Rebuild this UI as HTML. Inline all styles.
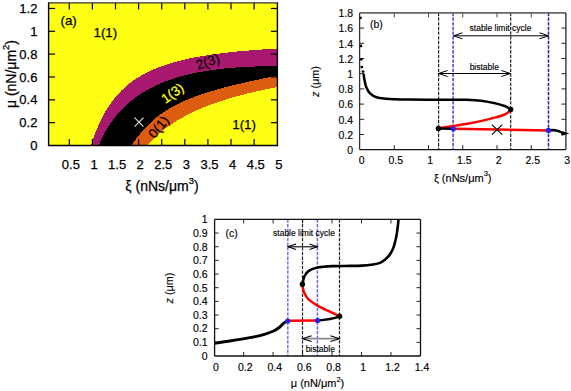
<!DOCTYPE html>
<html><head><meta charset="utf-8"><style>
html,body{margin:0;padding:0;background:#fff;width:571px;height:391px;overflow:hidden}
svg{display:block}
text{font-family:"Liberation Sans", sans-serif}
</style></head><body>
<svg width="571" height="391" viewBox="0 0 571 391">
<rect width="571" height="391" fill="#fff"/>
<rect x="48.6" y="2.9" width="228.80" height="142.60" fill="#ffff14"/>
<path d="M90.84,145.50 L91.46,143.69 L92.08,141.86 L92.70,140.06 L93.33,138.30 L93.95,136.58 L94.57,134.90 L95.19,133.26 L95.82,131.67 L96.44,130.11 L97.06,128.59 L97.68,127.12 L98.31,125.68 L98.93,124.28 L99.55,122.91 L100.17,121.58 L100.80,120.28 L101.42,119.01 L102.04,117.77 L102.67,116.57 L103.29,115.39 L103.91,114.25 L104.53,113.12 L105.16,112.03 L105.78,110.96 L106.40,109.92 L107.02,108.90 L107.65,107.90 L108.27,106.93 L108.89,105.98 L109.51,105.05 L110.14,104.14 L110.76,103.25 L111.38,102.38 L112.00,101.52 L112.63,100.69 L113.25,99.87 L113.87,99.08 L114.50,98.29 L115.12,97.53 L115.74,96.78 L116.36,96.04 L116.99,95.32 L117.61,94.62 L118.23,93.92 L118.85,93.25 L119.48,92.58 L120.10,91.93 L120.72,91.29 L121.34,90.66 L121.97,90.05 L122.59,89.44 L123.21,88.85 L123.83,88.27 L124.46,87.70 L125.08,87.14 L125.70,86.59 L126.32,86.05 L126.95,85.52 L127.57,85.00 L128.19,84.49 L128.82,83.98 L129.44,83.49 L130.06,83.01 L130.68,82.53 L131.31,82.06 L131.93,81.60 L132.55,81.15 L133.17,80.70 L133.80,80.26 L134.42,79.83 L135.04,79.41 L135.66,78.99 L136.29,78.58 L136.91,78.18 L137.53,77.78 L138.15,77.39 L138.78,77.00 L139.40,76.63 L140.02,76.25 L140.65,75.89 L141.27,75.53 L141.89,75.17 L142.51,74.82 L143.14,74.48 L143.76,74.14 L144.38,73.80 L145.00,73.47 L145.63,73.15 L146.25,72.83 L146.87,72.51 L147.49,72.20 L148.12,71.90 L148.74,71.59 L149.36,71.30 L149.98,71.00 L150.61,70.72 L151.23,70.43 L151.85,70.15 L152.48,69.87 L153.10,69.60 L153.72,69.33 L154.34,69.07 L154.97,68.81 L155.59,68.55 L156.21,68.29 L156.83,68.04 L157.46,67.79 L158.08,67.55 L158.70,67.31 L159.32,67.07 L159.95,66.84 L160.57,66.60 L161.19,66.38 L161.81,66.15 L162.44,65.93 L163.06,65.71 L163.68,65.49 L164.30,65.28 L164.93,65.07 L165.55,64.86 L166.17,64.65 L166.80,64.45 L167.42,64.25 L168.04,64.05 L168.66,63.85 L169.29,63.66 L169.91,63.47 L170.53,63.28 L171.15,63.09 L171.78,62.91 L172.40,62.73 L173.02,62.55 L173.64,62.37 L174.27,62.19 L174.89,62.02 L175.51,61.85 L176.13,61.68 L176.76,61.51 L177.38,61.35 L178.00,61.18 L178.63,61.02 L179.25,60.86 L179.87,60.71 L180.49,60.55 L181.12,60.40 L181.74,60.24 L182.36,60.09 L182.98,59.94 L183.61,59.80 L184.23,59.65 L184.85,59.51 L185.47,59.37 L186.10,59.23 L186.72,59.09 L187.34,58.95 L187.96,58.81 L188.59,58.68 L189.21,58.55 L189.83,58.41 L190.46,58.28 L191.08,58.16 L191.70,58.03 L192.32,57.90 L192.95,57.78 L193.57,57.65 L194.19,57.53 L194.81,57.41 L195.44,57.29 L196.06,57.18 L196.68,57.06 L197.30,56.94 L197.93,56.83 L198.55,56.72 L199.17,56.60 L199.79,56.49 L200.42,56.38 L201.04,56.28 L201.66,56.17 L202.29,56.06 L202.91,55.96 L203.53,55.85 L204.15,55.75 L204.78,55.65 L205.40,55.55 L206.02,55.45 L206.64,55.35 L207.27,55.25 L207.89,55.16 L208.51,55.06 L209.13,54.97 L209.76,54.87 L210.38,54.78 L211.00,54.69 L211.62,54.60 L212.25,54.51 L212.87,54.42 L213.49,54.33 L214.11,54.24 L214.74,54.16 L215.36,54.07 L215.98,53.99 L216.61,53.90 L217.23,53.82 L217.85,53.74 L218.47,53.66 L219.10,53.57 L219.72,53.49 L220.34,53.42 L220.96,53.34 L221.59,53.26 L222.21,53.18 L222.83,53.11 L223.45,53.03 L224.08,52.96 L224.70,52.88 L225.32,52.81 L225.94,52.74 L226.57,52.67 L227.19,52.59 L227.81,52.52 L228.44,52.45 L229.06,52.39 L229.68,52.32 L230.30,52.25 L230.93,52.18 L231.55,52.12 L232.17,52.05 L232.79,51.98 L233.42,51.92 L234.04,51.86 L234.66,51.79 L235.28,51.73 L235.91,51.67 L236.53,51.61 L237.15,51.54 L237.77,51.48 L238.40,51.42 L239.02,51.36 L239.64,51.31 L240.27,51.25 L240.89,51.19 L241.51,51.13 L242.13,51.08 L242.76,51.02 L243.38,50.96 L244.00,50.91 L244.62,50.85 L245.25,50.80 L245.87,50.75 L246.49,50.69 L247.11,50.64 L247.74,50.59 L248.36,50.54 L248.98,50.48 L249.60,50.43 L250.23,50.38 L250.85,50.33 L251.47,50.28 L252.10,50.24 L252.72,50.19 L253.34,50.14 L253.96,50.09 L254.59,50.04 L255.21,50.00 L255.83,49.95 L256.45,49.90 L257.08,49.86 L257.70,49.81 L258.32,49.77 L258.94,49.73 L259.57,49.68 L260.19,49.64 L260.81,49.59 L261.43,49.55 L262.06,49.51 L262.68,49.47 L263.30,49.43 L263.92,49.39 L264.55,49.34 L265.17,49.30 L265.79,49.26 L266.42,49.22 L267.04,49.18 L267.66,49.15 L268.28,49.11 L268.91,49.07 L269.53,49.03 L270.15,48.99 L270.77,48.96 L271.40,48.92 L272.02,48.88 L272.64,48.85 L273.26,48.81 L273.89,48.77 L274.51,48.74 L275.13,48.70 L275.75,48.67 L276.38,48.63 L277.00,48.60 L277.4,48.60 L277.4,145.5 L90.84,145.5 Z" fill="#a8186e" shape-rendering="crispEdges"/>
<path d="M98.83,145.50 L99.43,143.82 L100.03,142.36 L100.62,140.98 L101.22,139.67 L101.81,138.40 L102.41,137.18 L103.00,136.00 L103.60,134.85 L104.20,133.73 L104.79,132.64 L105.39,131.58 L105.98,130.55 L106.58,129.54 L107.18,128.55 L107.77,127.58 L108.37,126.63 L108.96,125.71 L109.56,124.80 L110.15,123.91 L110.75,123.04 L111.35,122.19 L111.94,121.35 L112.54,120.53 L113.13,119.73 L113.73,118.94 L114.33,118.16 L114.92,117.40 L115.52,116.65 L116.11,115.92 L116.71,115.19 L117.31,114.48 L117.90,113.79 L118.50,113.10 L119.09,112.43 L119.69,111.76 L120.28,111.11 L120.88,110.47 L121.48,109.84 L122.07,109.22 L122.67,108.61 L123.26,108.01 L123.86,107.42 L124.46,106.84 L125.05,106.26 L125.65,105.70 L126.24,105.14 L126.84,104.60 L127.44,104.06 L128.03,103.53 L128.63,103.01 L129.22,102.49 L129.82,101.98 L130.41,101.48 L131.01,100.99 L131.61,100.51 L132.20,100.03 L132.80,99.56 L133.39,99.09 L133.99,98.63 L134.59,98.18 L135.18,97.74 L135.78,97.30 L136.37,96.86 L136.97,96.44 L137.57,96.01 L138.16,95.60 L138.76,95.19 L139.35,94.79 L139.95,94.39 L140.54,93.99 L141.14,93.61 L141.74,93.22 L142.33,92.85 L142.93,92.47 L143.52,92.11 L144.12,91.74 L144.72,91.39 L145.31,91.03 L145.91,90.68 L146.50,90.34 L147.10,90.00 L147.70,89.67 L148.29,89.34 L148.89,89.01 L149.48,88.69 L150.08,88.37 L150.67,88.05 L151.27,87.74 L151.87,87.44 L152.46,87.14 L153.06,86.84 L153.65,86.54 L154.25,86.25 L154.85,85.97 L155.44,85.68 L156.04,85.40 L156.63,85.13 L157.23,84.85 L157.82,84.58 L158.42,84.32 L159.02,84.05 L159.61,83.79 L160.21,83.54 L160.80,83.29 L161.40,83.03 L162.00,82.79 L162.59,82.54 L163.19,82.30 L163.78,82.06 L164.38,81.83 L164.98,81.60 L165.57,81.37 L166.17,81.14 L166.76,80.92 L167.36,80.70 L167.95,80.48 L168.55,80.26 L169.15,80.05 L169.74,79.84 L170.34,79.63 L170.93,79.43 L171.53,79.22 L172.13,79.02 L172.72,78.83 L173.32,78.63 L173.91,78.44 L174.51,78.25 L175.11,78.06 L175.70,77.87 L176.30,77.69 L176.89,77.51 L177.49,77.33 L178.08,77.15 L178.68,76.98 L179.28,76.80 L179.87,76.63 L180.47,76.46 L181.06,76.30 L181.66,76.13 L182.26,75.97 L182.85,75.81 L183.45,75.65 L184.04,75.49 L184.64,75.34 L185.24,75.19 L185.83,75.04 L186.43,74.89 L187.02,74.74 L187.62,74.59 L188.21,74.45 L188.81,74.31 L189.41,74.17 L190.00,74.03 L190.60,73.89 L191.19,73.76 L191.79,73.63 L192.39,73.49 L192.98,73.36 L193.58,73.24 L194.17,73.11 L194.77,72.99 L195.37,72.86 L195.96,72.74 L196.56,72.62 L197.15,72.50 L197.75,72.38 L198.34,72.27 L198.94,72.15 L199.54,72.04 L200.13,71.93 L200.73,71.82 L201.32,71.71 L201.92,71.61 L202.52,71.50 L203.11,71.40 L203.71,71.29 L204.30,71.19 L204.90,71.09 L205.49,70.99 L206.09,70.90 L206.69,70.80 L207.28,70.71 L207.88,70.61 L208.47,70.52 L209.07,70.43 L209.67,70.34 L210.26,70.25 L210.86,70.17 L211.45,70.08 L212.05,69.99 L212.65,69.91 L213.24,69.83 L213.84,69.75 L214.43,69.67 L215.03,69.59 L215.62,69.51 L216.22,69.44 L216.82,69.36 L217.41,69.29 L218.01,69.21 L218.60,69.14 L219.20,69.07 L219.80,69.00 L220.39,68.93 L220.99,68.86 L221.58,68.80 L222.18,68.73 L222.78,68.67 L223.37,68.60 L223.97,68.54 L224.56,68.48 L225.16,68.42 L225.75,68.36 L226.35,68.30 L226.95,68.24 L227.54,68.19 L228.14,68.13 L228.73,68.08 L229.33,68.02 L229.93,67.97 L230.52,67.92 L231.12,67.87 L231.71,67.82 L232.31,67.77 L232.91,67.72 L233.50,67.67 L234.10,67.62 L234.69,67.58 L235.29,67.53 L235.88,67.49 L236.48,67.45 L237.08,67.40 L237.67,67.36 L238.27,67.32 L238.86,67.28 L239.46,67.24 L240.06,67.20 L240.65,67.17 L241.25,67.13 L241.84,67.10 L242.44,67.06 L243.04,67.03 L243.63,66.99 L244.23,66.96 L244.82,66.93 L245.42,66.90 L246.01,66.87 L246.61,66.84 L247.21,66.81 L247.80,66.78 L248.40,66.75 L248.99,66.73 L249.59,66.70 L250.19,66.67 L250.78,66.65 L251.38,66.63 L251.97,66.60 L252.57,66.58 L253.16,66.56 L253.76,66.54 L254.36,66.52 L254.95,66.50 L255.55,66.48 L256.14,66.46 L256.74,66.44 L257.34,66.43 L257.93,66.41 L258.53,66.39 L259.12,66.38 L259.72,66.36 L260.32,66.35 L260.91,66.34 L261.51,66.32 L262.10,66.31 L262.70,66.30 L263.29,66.29 L263.89,66.28 L264.49,66.27 L265.08,66.26 L265.68,66.25 L266.27,66.25 L266.87,66.24 L267.47,66.23 L268.06,66.23 L268.66,66.22 L269.25,66.22 L269.85,66.21 L270.45,66.21 L271.04,66.20 L271.64,66.20 L272.23,66.20 L272.83,66.20 L273.42,66.20 L274.02,66.20 L274.62,66.20 L275.21,66.20 L275.81,66.20 L276.40,66.20 L277.00,66.20 L277.4,66.20 L277.4,145.5 L98.83,145.5 Z" fill="#000" shape-rendering="crispEdges"/>
<path d="M131.03,145.50 L131.51,145.02 L132.00,144.44 L132.49,143.82 L132.98,143.18 L133.47,142.54 L133.96,141.88 L134.44,141.23 L134.93,140.57 L135.42,139.91 L135.91,139.26 L136.40,138.61 L136.88,137.96 L137.37,137.32 L137.86,136.69 L138.35,136.06 L138.84,135.44 L139.33,134.82 L139.81,134.21 L140.30,133.61 L140.79,133.01 L141.28,132.42 L141.77,131.84 L142.26,131.27 L142.74,130.70 L143.23,130.14 L143.72,129.59 L144.21,129.04 L144.70,128.50 L145.18,127.97 L145.67,127.44 L146.16,126.92 L146.65,126.41 L147.14,125.91 L147.63,125.41 L148.11,124.92 L148.60,124.43 L149.09,123.95 L149.58,123.48 L150.07,123.01 L150.55,122.55 L151.04,122.10 L151.53,121.65 L152.02,121.20 L152.51,120.77 L153.00,120.33 L153.48,119.91 L153.97,119.49 L154.46,119.07 L154.95,118.66 L155.44,118.26 L155.92,117.86 L156.41,117.46 L156.90,117.07 L157.39,116.69 L157.88,116.30 L158.37,115.93 L158.85,115.56 L159.34,115.19 L159.83,114.83 L160.32,114.47 L160.81,114.12 L161.30,113.77 L161.78,113.42 L162.27,113.08 L162.76,112.74 L163.25,112.41 L163.74,112.08 L164.22,111.75 L164.71,111.43 L165.20,111.11 L165.69,110.80 L166.18,110.49 L166.67,110.18 L167.15,109.87 L167.64,109.57 L168.13,109.27 L168.62,108.98 L169.11,108.69 L169.59,108.40 L170.08,108.11 L170.57,107.83 L171.06,107.55 L171.55,107.27 L172.04,107.00 L172.52,106.73 L173.01,106.46 L173.50,106.20 L173.99,105.93 L174.48,105.67 L174.96,105.41 L175.45,105.16 L175.94,104.91 L176.43,104.66 L176.92,104.41 L177.41,104.16 L177.89,103.92 L178.38,103.68 L178.87,103.44 L179.36,103.20 L179.85,102.97 L180.34,102.74 L180.82,102.51 L181.31,102.28 L181.80,102.05 L182.29,101.83 L182.78,101.61 L183.26,101.39 L183.75,101.17 L184.24,100.95 L184.73,100.74 L185.22,100.53 L185.71,100.32 L186.19,100.11 L186.68,99.90 L187.17,99.69 L187.66,99.49 L188.15,99.29 L188.63,99.09 L189.12,98.89 L189.61,98.69 L190.10,98.50 L190.59,98.30 L191.08,98.11 L191.56,97.92 L192.05,97.73 L192.54,97.54 L193.03,97.35 L193.52,97.16 L194.01,96.98 L194.49,96.80 L194.98,96.62 L195.47,96.44 L195.96,96.26 L196.45,96.08 L196.93,95.90 L197.42,95.73 L197.91,95.55 L198.40,95.38 L198.89,95.21 L199.38,95.04 L199.86,94.87 L200.35,94.70 L200.84,94.53 L201.33,94.36 L201.82,94.20 L202.30,94.04 L202.79,93.87 L203.28,93.71 L203.77,93.55 L204.26,93.39 L204.75,93.23 L205.23,93.07 L205.72,92.91 L206.21,92.76 L206.70,92.60 L207.19,92.45 L207.67,92.30 L208.16,92.14 L208.65,91.99 L209.14,91.84 L209.63,91.69 L210.12,91.54 L210.60,91.39 L211.09,91.25 L211.58,91.10 L212.07,90.95 L212.56,90.81 L213.05,90.66 L213.53,90.52 L214.02,90.38 L214.51,90.23 L215.00,90.09 L215.49,89.95 L215.97,89.81 L216.46,89.67 L216.95,89.53 L217.44,89.40 L217.93,89.26 L218.42,89.12 L218.90,88.99 L219.39,88.85 L219.88,88.72 L220.37,88.58 L220.86,88.45 L221.34,88.32 L221.83,88.18 L222.32,88.05 L222.81,87.92 L223.30,87.79 L223.79,87.66 L224.27,87.53 L224.76,87.40 L225.25,87.28 L225.74,87.15 L226.23,87.02 L226.71,86.89 L227.20,86.77 L227.69,86.64 L228.18,86.52 L228.67,86.39 L229.16,86.27 L229.64,86.15 L230.13,86.02 L230.62,85.90 L231.11,85.78 L231.60,85.66 L232.09,85.54 L232.57,85.42 L233.06,85.29 L233.55,85.18 L234.04,85.06 L234.53,84.94 L235.01,84.82 L235.50,84.70 L235.99,84.58 L236.48,84.47 L236.97,84.35 L237.46,84.23 L237.94,84.12 L238.43,84.00 L238.92,83.89 L239.41,83.77 L239.90,83.66 L240.38,83.54 L240.87,83.43 L241.36,83.31 L241.85,83.20 L242.34,83.09 L242.83,82.98 L243.31,82.87 L243.80,82.75 L244.29,82.64 L244.78,82.53 L245.27,82.42 L245.75,82.31 L246.24,82.20 L246.73,82.09 L247.22,81.98 L247.71,81.87 L248.20,81.76 L248.68,81.66 L249.17,81.55 L249.66,81.44 L250.15,81.33 L250.64,81.23 L251.13,81.12 L251.61,81.01 L252.10,80.91 L252.59,80.80 L253.08,80.69 L253.57,80.59 L254.05,80.48 L254.54,80.38 L255.03,80.27 L255.52,80.17 L256.01,80.07 L256.50,79.96 L256.98,79.86 L257.47,79.75 L257.96,79.65 L258.45,79.55 L258.94,79.45 L259.42,79.34 L259.91,79.24 L260.40,79.14 L260.89,79.04 L261.38,78.94 L261.87,78.84 L262.35,78.73 L262.84,78.63 L263.33,78.53 L263.82,78.43 L264.31,78.33 L264.79,78.23 L265.28,78.13 L265.77,78.03 L266.26,77.93 L266.75,77.83 L267.24,77.74 L267.72,77.64 L268.21,77.54 L268.70,77.44 L269.19,77.34 L269.68,77.24 L270.17,77.15 L270.65,77.05 L271.14,76.95 L271.63,76.86 L272.12,76.76 L272.61,76.66 L273.09,76.56 L273.58,76.47 L274.07,76.37 L274.56,76.28 L275.05,76.18 L275.54,76.08 L276.02,75.99 L276.51,75.89 L277.00,75.80 L277.4,75.80 L277.4,145.5 L131.03,145.5 Z" fill="#dc5c10" shape-rendering="crispEdges"/>
<path d="M146.98,145.50 L147.41,144.96 L147.85,144.45 L148.28,143.96 L148.72,143.47 L149.15,143.00 L149.59,142.53 L150.02,142.07 L150.46,141.61 L150.89,141.16 L151.32,140.72 L151.76,140.28 L152.19,139.85 L152.63,139.42 L153.06,139.00 L153.50,138.58 L153.93,138.16 L154.37,137.75 L154.80,137.35 L155.24,136.95 L155.67,136.55 L156.11,136.15 L156.54,135.76 L156.98,135.38 L157.41,134.99 L157.85,134.62 L158.28,134.24 L158.72,133.87 L159.15,133.50 L159.59,133.13 L160.02,132.77 L160.46,132.41 L160.89,132.06 L161.33,131.70 L161.76,131.35 L162.20,131.01 L162.63,130.66 L163.07,130.32 L163.50,129.98 L163.94,129.65 L164.37,129.32 L164.81,128.99 L165.24,128.66 L165.68,128.33 L166.11,128.01 L166.55,127.69 L166.98,127.38 L167.41,127.06 L167.85,126.75 L168.28,126.44 L168.72,126.14 L169.15,125.83 L169.59,125.53 L170.02,125.23 L170.46,124.93 L170.89,124.64 L171.33,124.35 L171.76,124.06 L172.20,123.77 L172.63,123.48 L173.07,123.20 L173.50,122.92 L173.94,122.64 L174.37,122.36 L174.81,122.08 L175.24,121.81 L175.68,121.54 L176.11,121.27 L176.55,121.00 L176.98,120.74 L177.42,120.47 L177.85,120.21 L178.29,119.95 L178.72,119.69 L179.16,119.44 L179.59,119.18 L180.03,118.93 L180.46,118.68 L180.90,118.43 L181.33,118.18 L181.77,117.94 L182.20,117.69 L182.64,117.45 L183.07,117.21 L183.50,116.97 L183.94,116.73 L184.37,116.50 L184.81,116.26 L185.24,116.03 L185.68,115.80 L186.11,115.57 L186.55,115.34 L186.98,115.11 L187.42,114.89 L187.85,114.66 L188.29,114.44 L188.72,114.22 L189.16,114.00 L189.59,113.78 L190.03,113.57 L190.46,113.35 L190.90,113.14 L191.33,112.93 L191.77,112.71 L192.20,112.51 L192.64,112.30 L193.07,112.09 L193.51,111.88 L193.94,111.68 L194.38,111.48 L194.81,111.27 L195.25,111.07 L195.68,110.87 L196.12,110.68 L196.55,110.48 L196.99,110.28 L197.42,110.09 L197.86,109.89 L198.29,109.70 L198.72,109.51 L199.16,109.32 L199.59,109.13 L200.03,108.94 L200.46,108.76 L200.90,108.57 L201.33,108.39 L201.77,108.20 L202.20,108.02 L202.64,107.84 L203.07,107.66 L203.51,107.48 L203.94,107.30 L204.38,107.13 L204.81,106.95 L205.25,106.77 L205.68,106.60 L206.12,106.43 L206.55,106.26 L206.99,106.08 L207.42,105.91 L207.86,105.75 L208.29,105.58 L208.73,105.41 L209.16,105.24 L209.60,105.08 L210.03,104.91 L210.47,104.75 L210.90,104.59 L211.34,104.43 L211.77,104.26 L212.21,104.10 L212.64,103.95 L213.08,103.79 L213.51,103.63 L213.95,103.47 L214.38,103.32 L214.81,103.16 L215.25,103.01 L215.68,102.86 L216.12,102.70 L216.55,102.55 L216.99,102.40 L217.42,102.25 L217.86,102.10 L218.29,101.95 L218.73,101.81 L219.16,101.66 L219.60,101.51 L220.03,101.37 L220.47,101.22 L220.90,101.08 L221.34,100.94 L221.77,100.79 L222.21,100.65 L222.64,100.51 L223.08,100.37 L223.51,100.23 L223.95,100.09 L224.38,99.96 L224.82,99.82 L225.25,99.68 L225.69,99.55 L226.12,99.41 L226.56,99.28 L226.99,99.14 L227.43,99.01 L227.86,98.88 L228.30,98.74 L228.73,98.61 L229.17,98.48 L229.60,98.35 L230.03,98.22 L230.47,98.09 L230.90,97.97 L231.34,97.84 L231.77,97.71 L232.21,97.59 L232.64,97.46 L233.08,97.34 L233.51,97.21 L233.95,97.09 L234.38,96.96 L234.82,96.84 L235.25,96.72 L235.69,96.60 L236.12,96.48 L236.56,96.36 L236.99,96.24 L237.43,96.12 L237.86,96.00 L238.30,95.88 L238.73,95.76 L239.17,95.65 L239.60,95.53 L240.04,95.42 L240.47,95.30 L240.91,95.19 L241.34,95.07 L241.78,94.96 L242.21,94.84 L242.65,94.73 L243.08,94.62 L243.52,94.51 L243.95,94.40 L244.39,94.29 L244.82,94.18 L245.26,94.07 L245.69,93.96 L246.12,93.85 L246.56,93.74 L246.99,93.63 L247.43,93.53 L247.86,93.42 L248.30,93.31 L248.73,93.21 L249.17,93.10 L249.60,93.00 L250.04,92.89 L250.47,92.79 L250.91,92.69 L251.34,92.58 L251.78,92.48 L252.21,92.38 L252.65,92.28 L253.08,92.17 L253.52,92.07 L253.95,91.97 L254.39,91.87 L254.82,91.77 L255.26,91.68 L255.69,91.58 L256.13,91.48 L256.56,91.38 L257.00,91.28 L257.43,91.19 L257.87,91.09 L258.30,90.99 L258.74,90.90 L259.17,90.80 L259.61,90.71 L260.04,90.61 L260.48,90.52 L260.91,90.43 L261.34,90.33 L261.78,90.24 L262.21,90.15 L262.65,90.05 L263.08,89.96 L263.52,89.87 L263.95,89.78 L264.39,89.69 L264.82,89.60 L265.26,89.51 L265.69,89.42 L266.13,89.33 L266.56,89.24 L267.00,89.15 L267.43,89.06 L267.87,88.98 L268.30,88.89 L268.74,88.80 L269.17,88.72 L269.61,88.63 L270.04,88.54 L270.48,88.46 L270.91,88.37 L271.35,88.29 L271.78,88.20 L272.22,88.12 L272.65,88.03 L273.09,87.95 L273.52,87.87 L273.96,87.78 L274.39,87.70 L274.83,87.62 L275.26,87.54 L275.70,87.46 L276.13,87.37 L276.57,87.29 L277.00,87.21 L277.4,87.21 L277.4,145.5 L146.98,145.5 Z" fill="#ffff14" shape-rendering="crispEdges"/>
<line x1="69.30" y1="145.50" x2="69.30" y2="139.00" stroke="#000" stroke-width="1.2"/>
<line x1="69.30" y1="2.90" x2="69.30" y2="9.40" stroke="#000" stroke-width="1.2"/>
<text x="70.90" y="168.60" font-size="13" text-anchor="middle" fill="#000" stroke="#000" stroke-width="0.25">0.5</text>
<line x1="92.40" y1="145.50" x2="92.40" y2="139.00" stroke="#000" stroke-width="1.2"/>
<line x1="92.40" y1="2.90" x2="92.40" y2="9.40" stroke="#000" stroke-width="1.2"/>
<text x="94.00" y="168.60" font-size="13" text-anchor="middle" fill="#000" stroke="#000" stroke-width="0.25">1</text>
<line x1="115.50" y1="145.50" x2="115.50" y2="139.00" stroke="#000" stroke-width="1.2"/>
<line x1="115.50" y1="2.90" x2="115.50" y2="9.40" stroke="#000" stroke-width="1.2"/>
<text x="117.10" y="168.60" font-size="13" text-anchor="middle" fill="#000" stroke="#000" stroke-width="0.25">1.5</text>
<line x1="138.60" y1="145.50" x2="138.60" y2="139.00" stroke="#000" stroke-width="1.2"/>
<line x1="138.60" y1="2.90" x2="138.60" y2="9.40" stroke="#000" stroke-width="1.2"/>
<text x="140.20" y="168.60" font-size="13" text-anchor="middle" fill="#000" stroke="#000" stroke-width="0.25">2</text>
<line x1="161.70" y1="145.50" x2="161.70" y2="139.00" stroke="#000" stroke-width="1.2"/>
<line x1="161.70" y1="2.90" x2="161.70" y2="9.40" stroke="#000" stroke-width="1.2"/>
<text x="163.30" y="168.60" font-size="13" text-anchor="middle" fill="#000" stroke="#000" stroke-width="0.25">2.5</text>
<line x1="184.80" y1="145.50" x2="184.80" y2="139.00" stroke="#000" stroke-width="1.2"/>
<line x1="184.80" y1="2.90" x2="184.80" y2="9.40" stroke="#000" stroke-width="1.2"/>
<text x="186.40" y="168.60" font-size="13" text-anchor="middle" fill="#000" stroke="#000" stroke-width="0.25">3</text>
<line x1="207.90" y1="145.50" x2="207.90" y2="139.00" stroke="#000" stroke-width="1.2"/>
<line x1="207.90" y1="2.90" x2="207.90" y2="9.40" stroke="#000" stroke-width="1.2"/>
<text x="209.50" y="168.60" font-size="13" text-anchor="middle" fill="#000" stroke="#000" stroke-width="0.25">3.5</text>
<line x1="231.00" y1="145.50" x2="231.00" y2="139.00" stroke="#000" stroke-width="1.2"/>
<line x1="231.00" y1="2.90" x2="231.00" y2="9.40" stroke="#000" stroke-width="1.2"/>
<text x="232.60" y="168.60" font-size="13" text-anchor="middle" fill="#000" stroke="#000" stroke-width="0.25">4</text>
<line x1="254.10" y1="145.50" x2="254.10" y2="139.00" stroke="#000" stroke-width="1.2"/>
<line x1="254.10" y1="2.90" x2="254.10" y2="9.40" stroke="#000" stroke-width="1.2"/>
<text x="255.70" y="168.60" font-size="13" text-anchor="middle" fill="#000" stroke="#000" stroke-width="0.25">4.5</text>
<text x="278.80" y="168.60" font-size="13" text-anchor="middle" fill="#000" stroke="#000" stroke-width="0.25">5</text>
<text x="37.40" y="150.10" font-size="13" text-anchor="end" fill="#000" stroke="#000" stroke-width="0.25">0</text>
<line x1="48.60" y1="122.66" x2="55.10" y2="122.66" stroke="#000" stroke-width="1.2"/>
<line x1="277.40" y1="122.66" x2="270.90" y2="122.66" stroke="#000" stroke-width="1.2"/>
<text x="37.40" y="127.26" font-size="13" text-anchor="end" fill="#000" stroke="#000" stroke-width="0.25">0.2</text>
<line x1="48.60" y1="99.82" x2="55.10" y2="99.82" stroke="#000" stroke-width="1.2"/>
<line x1="277.40" y1="99.82" x2="270.90" y2="99.82" stroke="#000" stroke-width="1.2"/>
<text x="37.40" y="104.42" font-size="13" text-anchor="end" fill="#000" stroke="#000" stroke-width="0.25">0.4</text>
<line x1="48.60" y1="76.98" x2="55.10" y2="76.98" stroke="#000" stroke-width="1.2"/>
<line x1="277.40" y1="76.98" x2="270.90" y2="76.98" stroke="#000" stroke-width="1.2"/>
<text x="37.40" y="81.58" font-size="13" text-anchor="end" fill="#000" stroke="#000" stroke-width="0.25">0.6</text>
<line x1="48.60" y1="54.14" x2="55.10" y2="54.14" stroke="#000" stroke-width="1.2"/>
<line x1="277.40" y1="54.14" x2="270.90" y2="54.14" stroke="#000" stroke-width="1.2"/>
<text x="37.40" y="58.74" font-size="13" text-anchor="end" fill="#000" stroke="#000" stroke-width="0.25">0.8</text>
<line x1="48.60" y1="31.30" x2="55.10" y2="31.30" stroke="#000" stroke-width="1.2"/>
<line x1="277.40" y1="31.30" x2="270.90" y2="31.30" stroke="#000" stroke-width="1.2"/>
<text x="37.40" y="35.90" font-size="13" text-anchor="end" fill="#000" stroke="#000" stroke-width="0.25">1</text>
<line x1="48.60" y1="8.46" x2="55.10" y2="8.46" stroke="#000" stroke-width="1.2"/>
<line x1="277.40" y1="8.46" x2="270.90" y2="8.46" stroke="#000" stroke-width="1.2"/>
<text x="37.40" y="13.06" font-size="13" text-anchor="end" fill="#000" stroke="#000" stroke-width="0.25">1.2</text>
<line x1="48.60" y1="2.90" x2="277.40" y2="2.90" stroke="#333" stroke-width="1.1"/>
<line x1="48.60" y1="145.50" x2="277.40" y2="145.50" stroke="#000" stroke-width="1.5"/>
<line x1="48.60" y1="2.40" x2="48.60" y2="146.20" stroke="#000" stroke-width="1.4"/>
<line x1="277.40" y1="2.40" x2="277.40" y2="146.20" stroke="#000" stroke-width="1.4"/>
<text x="60.50" y="25.20" font-size="13.3" fill="#000" stroke="#000" stroke-width="0.25">(a)</text>
<text x="93.50" y="37.20" font-size="13.3" fill="#000" stroke="#000" stroke-width="0.25">1(1)</text>
<text x="232.30" y="129.20" font-size="13.3" fill="#000" stroke="#000" stroke-width="0.25">1(1)</text>
<text transform="translate(207.8,61.5) rotate(-19)" x="0" y="4.8" font-size="13.5" text-anchor="middle" fill="#000" stroke="#000" stroke-width="0.25">2(3)</text>
<text transform="translate(172.3,93) rotate(-36)" x="0" y="4.8" font-size="13.5" text-anchor="middle" fill="#ffff14" stroke="#ffff14" stroke-width="0.25">1(3)</text>
<text transform="translate(158.5,127) rotate(-50)" x="0" y="4.8" font-size="13.5" text-anchor="middle" fill="#000" stroke="#000" stroke-width="0.25">0(1)</text>
<path d="M134.5,117.7 L143.5,126.7 M134.5,126.7 L143.5,117.7" stroke="#d8d8d8" stroke-width="1.2"/>
<text x="162.00" y="190.60" font-size="14" text-anchor="middle" fill="#000" stroke="#000" stroke-width="0.25">ξ (nNs/μm<tspan font-size="9.5" dy="-6.5">3</tspan><tspan dy="6.5">)</tspan></text>
<text transform="translate(16,74) rotate(-90)" x="0" y="0" font-size="14" text-anchor="middle" fill="#000" stroke="#000" stroke-width="0.25">μ (nN/μm<tspan font-size="9.5" dy="-7.5">2</tspan><tspan dy="7.5">)</tspan></text>
<line x1="394.25" y1="149.60" x2="394.25" y2="145.10" stroke="#222" stroke-width="1"/>
<line x1="394.25" y1="12.90" x2="394.25" y2="17.40" stroke="#444" stroke-width="1"/>
<line x1="428.50" y1="149.60" x2="428.50" y2="145.10" stroke="#222" stroke-width="1"/>
<line x1="428.50" y1="12.90" x2="428.50" y2="17.40" stroke="#444" stroke-width="1"/>
<line x1="462.75" y1="149.60" x2="462.75" y2="145.10" stroke="#222" stroke-width="1"/>
<line x1="462.75" y1="12.90" x2="462.75" y2="17.40" stroke="#444" stroke-width="1"/>
<line x1="497.00" y1="149.60" x2="497.00" y2="145.10" stroke="#222" stroke-width="1"/>
<line x1="497.00" y1="12.90" x2="497.00" y2="17.40" stroke="#444" stroke-width="1"/>
<line x1="531.25" y1="149.60" x2="531.25" y2="145.10" stroke="#222" stroke-width="1"/>
<line x1="531.25" y1="12.90" x2="531.25" y2="17.40" stroke="#444" stroke-width="1"/>
<text x="361.60" y="164.20" font-size="10.5" text-anchor="middle" fill="#000" stroke="#000" stroke-width="0.15">0</text>
<text x="395.85" y="164.20" font-size="10.5" text-anchor="middle" fill="#000" stroke="#000" stroke-width="0.15">0.5</text>
<text x="430.10" y="164.20" font-size="10.5" text-anchor="middle" fill="#000" stroke="#000" stroke-width="0.15">1</text>
<text x="464.35" y="164.20" font-size="10.5" text-anchor="middle" fill="#000" stroke="#000" stroke-width="0.15">1.5</text>
<text x="498.60" y="164.20" font-size="10.5" text-anchor="middle" fill="#000" stroke="#000" stroke-width="0.15">2</text>
<text x="532.85" y="164.20" font-size="10.5" text-anchor="middle" fill="#000" stroke="#000" stroke-width="0.15">2.5</text>
<text x="567.10" y="164.20" font-size="10.5" text-anchor="middle" fill="#000" stroke="#000" stroke-width="0.15">3</text>
<text x="353.00" y="153.90" font-size="10.5" text-anchor="end" fill="#000" stroke="#000" stroke-width="0.15">0</text>
<line x1="359.60" y1="134.50" x2="364.10" y2="134.50" stroke="#222" stroke-width="1"/>
<line x1="565.90" y1="134.50" x2="561.40" y2="134.50" stroke="#222" stroke-width="1"/>
<text x="353.00" y="138.70" font-size="10.5" text-anchor="end" fill="#000" stroke="#000" stroke-width="0.15">0.2</text>
<line x1="359.60" y1="119.30" x2="364.10" y2="119.30" stroke="#222" stroke-width="1"/>
<line x1="565.90" y1="119.30" x2="561.40" y2="119.30" stroke="#222" stroke-width="1"/>
<text x="353.00" y="123.50" font-size="10.5" text-anchor="end" fill="#000" stroke="#000" stroke-width="0.15">0.4</text>
<line x1="359.60" y1="104.10" x2="364.10" y2="104.10" stroke="#222" stroke-width="1"/>
<line x1="565.90" y1="104.10" x2="561.40" y2="104.10" stroke="#222" stroke-width="1"/>
<text x="353.00" y="108.30" font-size="10.5" text-anchor="end" fill="#000" stroke="#000" stroke-width="0.15">0.6</text>
<line x1="359.60" y1="88.90" x2="364.10" y2="88.90" stroke="#222" stroke-width="1"/>
<line x1="565.90" y1="88.90" x2="561.40" y2="88.90" stroke="#222" stroke-width="1"/>
<text x="353.00" y="93.10" font-size="10.5" text-anchor="end" fill="#000" stroke="#000" stroke-width="0.15">0.8</text>
<line x1="359.60" y1="73.70" x2="364.10" y2="73.70" stroke="#222" stroke-width="1"/>
<line x1="565.90" y1="73.70" x2="561.40" y2="73.70" stroke="#222" stroke-width="1"/>
<text x="353.00" y="77.90" font-size="10.5" text-anchor="end" fill="#000" stroke="#000" stroke-width="0.15">1</text>
<line x1="359.60" y1="58.50" x2="364.10" y2="58.50" stroke="#222" stroke-width="1"/>
<line x1="565.90" y1="58.50" x2="561.40" y2="58.50" stroke="#222" stroke-width="1"/>
<text x="353.00" y="62.70" font-size="10.5" text-anchor="end" fill="#000" stroke="#000" stroke-width="0.15">1.2</text>
<line x1="359.60" y1="43.30" x2="364.10" y2="43.30" stroke="#222" stroke-width="1"/>
<line x1="565.90" y1="43.30" x2="561.40" y2="43.30" stroke="#222" stroke-width="1"/>
<text x="353.00" y="47.50" font-size="10.5" text-anchor="end" fill="#000" stroke="#000" stroke-width="0.15">1.4</text>
<line x1="359.60" y1="28.10" x2="364.10" y2="28.10" stroke="#222" stroke-width="1"/>
<line x1="565.90" y1="28.10" x2="561.40" y2="28.10" stroke="#222" stroke-width="1"/>
<text x="353.00" y="32.30" font-size="10.5" text-anchor="end" fill="#000" stroke="#000" stroke-width="0.15">1.6</text>
<text x="353.00" y="17.10" font-size="10.5" text-anchor="end" fill="#000" stroke="#000" stroke-width="0.15">1.8</text>
<line x1="438.60" y1="12.90" x2="438.60" y2="149.60" stroke="#222" stroke-width="1.2" stroke-dasharray="3.3,1.35"/>
<line x1="510.70" y1="12.90" x2="510.70" y2="149.60" stroke="#222" stroke-width="1.2" stroke-dasharray="3.3,1.35"/>
<line x1="453.10" y1="12.90" x2="453.10" y2="149.60" stroke="#5a48d8" stroke-width="1.6" stroke-dasharray="3.3,1.35"/>
<line x1="548.50" y1="12.90" x2="548.50" y2="149.60" stroke="#2a1ca8" stroke-width="1.5" stroke-dasharray="3.3,1.35"/>
<line x1="453.50" y1="35.80" x2="548.50" y2="35.80" stroke="#000" stroke-width="1"/><path d="M462.5,32.8 L453.5,35.8 L462.5,38.8 M539.5,32.8 L548.5,35.8 L539.5,38.8" fill="none" stroke="#000" stroke-width="1"/>
<line x1="438.60" y1="73.50" x2="510.40" y2="73.50" stroke="#000" stroke-width="1"/><path d="M447.6,70.5 L438.6,73.5 L447.6,76.5 M501.4,70.5 L510.4,73.5 L501.4,76.5" fill="none" stroke="#000" stroke-width="1"/>
<text x="500.50" y="31.00" font-size="8.5" text-anchor="middle" fill="#000" stroke="#000" stroke-width="0.15">stable limit cycle</text>
<text x="484.30" y="69.80" font-size="8.5" text-anchor="middle" fill="#000" stroke="#000" stroke-width="0.15">bistable</text>
<path d="M363.90,76.50 C364.00,77.08 364.12,78.25 364.50,80.00 C364.88,81.75 365.28,84.77 366.20,87.00 C367.12,89.23 368.28,91.70 370.00,93.40 C371.72,95.10 373.83,96.32 376.50,97.20 C379.17,98.08 383.02,98.35 386.00,98.70 C388.98,99.05 390.62,99.15 394.40,99.30 C398.18,99.45 401.10,99.53 408.70,99.60 C416.30,99.67 430.37,99.67 440.00,99.70 C449.63,99.73 459.37,99.60 466.50,99.80 C473.63,100.00 477.95,100.30 482.80,100.90 C487.65,101.50 491.98,102.55 495.60,103.40 C499.22,104.25 502.17,105.15 504.50,106.00 C506.83,106.85 508.57,107.93 509.60,108.50 C510.63,109.07 510.52,109.25 510.70,109.40" fill="none" stroke="#000" stroke-width="2.5" stroke-linecap="round"/>
<circle cx="360.5" cy="17.8" r="1.4" fill="#000"/>
<circle cx="360.9" cy="45.9" r="1.4" fill="#000"/>
<circle cx="361.2" cy="59.3" r="1.4" fill="#000"/>
<circle cx="361.8" cy="67.1" r="1.4" fill="#000"/>
<circle cx="363" cy="71.6" r="1.4" fill="#000"/>
<circle cx="363.8" cy="75" r="1.4" fill="#000"/>
<path d="M438.40,128.30 C440.83,127.93 447.73,126.93 453.00,126.10 C458.27,125.27 465.03,124.22 470.00,123.30 C474.97,122.38 478.53,121.58 482.80,120.60 C487.07,119.62 491.90,118.45 495.60,117.40 C499.30,116.35 502.48,115.45 505.00,114.30 C507.52,113.15 509.75,111.13 510.70,110.50" fill="none" stroke="#f00" stroke-width="2.5"/>
<path d="M438.4,128.6 L453.2,128.8" stroke="#000" stroke-width="2.5"/>
<path d="M453.2,128.8 L497,129.6 L548.5,130.5" fill="none" stroke="#f00" stroke-width="2.5"/>
<path d="M548.5,130.5 L553.5,130 C556,130.3 559,131.2 562,132.3 L565.5,133.5 L561.5,134.6" fill="none" stroke="#000" stroke-width="2.3"/>
<circle cx="510.7" cy="109.4" r="2.7" fill="#000"/>
<circle cx="438.4" cy="128.5" r="2.7" fill="#000"/>
<circle cx="453.2" cy="128.8" r="2.6" fill="#2222ee"/>
<circle cx="548.5" cy="130.5" r="2.7" fill="#2222ee"/>
<path d="M491.90000000000003,124.6 L502.3,134.6 M491.90000000000003,134.6 L502.3,124.6" stroke="#000" stroke-width="1.1"/>
<line x1="359.60" y1="12.90" x2="565.90" y2="12.90" stroke="#666" stroke-width="1.6"/>
<line x1="359.60" y1="149.60" x2="565.90" y2="149.60" stroke="#111" stroke-width="1.3"/>
<line x1="359.60" y1="12.90" x2="359.60" y2="149.60" stroke="#333" stroke-width="1.3"/>
<line x1="565.90" y1="12.90" x2="565.90" y2="149.60" stroke="#222" stroke-width="1.3"/>
<text x="370.00" y="27.60" font-size="10.5" fill="#000" stroke="#000" stroke-width="0.15">(b)</text>
<text x="462.70" y="181.50" font-size="11" text-anchor="middle" fill="#000" stroke="#000" stroke-width="0.15">ξ (nNs/μm<tspan font-size="7.5" dy="-6">3</tspan><tspan dy="6">)</tspan></text>
<text transform="translate(319,81.5) rotate(-90)" x="0" y="0" font-size="10.8" text-anchor="middle" fill="#000" stroke="#000" stroke-width="0.1"><tspan font-style="italic">z</tspan> (μm)</text>
<line x1="243.66" y1="356.00" x2="243.66" y2="352.00" stroke="#222" stroke-width="1"/>
<line x1="243.66" y1="219.40" x2="243.66" y2="223.40" stroke="#222" stroke-width="1"/>
<line x1="273.12" y1="356.00" x2="273.12" y2="352.00" stroke="#222" stroke-width="1"/>
<line x1="273.12" y1="219.40" x2="273.12" y2="223.40" stroke="#222" stroke-width="1"/>
<line x1="302.58" y1="356.00" x2="302.58" y2="352.00" stroke="#222" stroke-width="1"/>
<line x1="302.58" y1="219.40" x2="302.58" y2="223.40" stroke="#222" stroke-width="1"/>
<line x1="332.04" y1="356.00" x2="332.04" y2="352.00" stroke="#222" stroke-width="1"/>
<line x1="332.04" y1="219.40" x2="332.04" y2="223.40" stroke="#222" stroke-width="1"/>
<line x1="361.50" y1="356.00" x2="361.50" y2="352.00" stroke="#222" stroke-width="1"/>
<line x1="361.50" y1="219.40" x2="361.50" y2="223.40" stroke="#222" stroke-width="1"/>
<line x1="390.96" y1="356.00" x2="390.96" y2="352.00" stroke="#222" stroke-width="1"/>
<line x1="390.96" y1="219.40" x2="390.96" y2="223.40" stroke="#222" stroke-width="1"/>
<text x="215.80" y="370.50" font-size="10.5" text-anchor="middle" fill="#000" stroke="#000" stroke-width="0.15">0</text>
<text x="245.26" y="370.50" font-size="10.5" text-anchor="middle" fill="#000" stroke="#000" stroke-width="0.15">0.2</text>
<text x="274.72" y="370.50" font-size="10.5" text-anchor="middle" fill="#000" stroke="#000" stroke-width="0.15">0.4</text>
<text x="304.18" y="370.50" font-size="10.5" text-anchor="middle" fill="#000" stroke="#000" stroke-width="0.15">0.6</text>
<text x="333.64" y="370.50" font-size="10.5" text-anchor="middle" fill="#000" stroke="#000" stroke-width="0.15">0.8</text>
<text x="363.10" y="370.50" font-size="10.5" text-anchor="middle" fill="#000" stroke="#000" stroke-width="0.15">1</text>
<text x="392.56" y="370.50" font-size="10.5" text-anchor="middle" fill="#000" stroke="#000" stroke-width="0.15">1.2</text>
<text x="422.02" y="370.50" font-size="10.5" text-anchor="middle" fill="#000" stroke="#000" stroke-width="0.15">1.4</text>
<text x="207.50" y="359.80" font-size="10.5" text-anchor="end" fill="#000" stroke="#000" stroke-width="0.15">0</text>
<line x1="214.60" y1="342.34" x2="218.60" y2="342.34" stroke="#222" stroke-width="1"/>
<line x1="420.50" y1="342.34" x2="416.50" y2="342.34" stroke="#222" stroke-width="1"/>
<text x="207.50" y="346.14" font-size="10.5" text-anchor="end" fill="#000" stroke="#000" stroke-width="0.15">0.1</text>
<line x1="214.60" y1="328.68" x2="218.60" y2="328.68" stroke="#222" stroke-width="1"/>
<line x1="420.50" y1="328.68" x2="416.50" y2="328.68" stroke="#222" stroke-width="1"/>
<text x="207.50" y="332.48" font-size="10.5" text-anchor="end" fill="#000" stroke="#000" stroke-width="0.15">0.2</text>
<line x1="214.60" y1="315.02" x2="218.60" y2="315.02" stroke="#222" stroke-width="1"/>
<line x1="420.50" y1="315.02" x2="416.50" y2="315.02" stroke="#222" stroke-width="1"/>
<text x="207.50" y="318.82" font-size="10.5" text-anchor="end" fill="#000" stroke="#000" stroke-width="0.15">0.3</text>
<line x1="214.60" y1="301.36" x2="218.60" y2="301.36" stroke="#222" stroke-width="1"/>
<line x1="420.50" y1="301.36" x2="416.50" y2="301.36" stroke="#222" stroke-width="1"/>
<text x="207.50" y="305.16" font-size="10.5" text-anchor="end" fill="#000" stroke="#000" stroke-width="0.15">0.4</text>
<line x1="214.60" y1="287.70" x2="218.60" y2="287.70" stroke="#222" stroke-width="1"/>
<line x1="420.50" y1="287.70" x2="416.50" y2="287.70" stroke="#222" stroke-width="1"/>
<text x="207.50" y="291.50" font-size="10.5" text-anchor="end" fill="#000" stroke="#000" stroke-width="0.15">0.5</text>
<line x1="214.60" y1="274.04" x2="218.60" y2="274.04" stroke="#222" stroke-width="1"/>
<line x1="420.50" y1="274.04" x2="416.50" y2="274.04" stroke="#222" stroke-width="1"/>
<text x="207.50" y="277.84" font-size="10.5" text-anchor="end" fill="#000" stroke="#000" stroke-width="0.15">0.6</text>
<line x1="214.60" y1="260.38" x2="218.60" y2="260.38" stroke="#222" stroke-width="1"/>
<line x1="420.50" y1="260.38" x2="416.50" y2="260.38" stroke="#222" stroke-width="1"/>
<text x="207.50" y="264.18" font-size="10.5" text-anchor="end" fill="#000" stroke="#000" stroke-width="0.15">0.7</text>
<line x1="214.60" y1="246.72" x2="218.60" y2="246.72" stroke="#222" stroke-width="1"/>
<line x1="420.50" y1="246.72" x2="416.50" y2="246.72" stroke="#222" stroke-width="1"/>
<text x="207.50" y="250.52" font-size="10.5" text-anchor="end" fill="#000" stroke="#000" stroke-width="0.15">0.8</text>
<line x1="214.60" y1="233.06" x2="218.60" y2="233.06" stroke="#222" stroke-width="1"/>
<line x1="420.50" y1="233.06" x2="416.50" y2="233.06" stroke="#222" stroke-width="1"/>
<text x="207.50" y="236.86" font-size="10.5" text-anchor="end" fill="#000" stroke="#000" stroke-width="0.15">0.9</text>
<text x="207.50" y="223.20" font-size="10.5" text-anchor="end" fill="#000" stroke="#000" stroke-width="0.15">1</text>
<line x1="302.50" y1="219.40" x2="302.50" y2="356.00" stroke="#222" stroke-width="1.2" stroke-dasharray="3.3,1.35"/>
<line x1="339.50" y1="219.40" x2="339.50" y2="356.00" stroke="#222" stroke-width="1.2" stroke-dasharray="3.3,1.35"/>
<line x1="287.80" y1="219.40" x2="287.80" y2="356.00" stroke="#7a70e0" stroke-width="1.5" stroke-dasharray="3.3,1.35"/>
<line x1="317.40" y1="219.40" x2="317.40" y2="356.00" stroke="#7066e0" stroke-width="1.5" stroke-dasharray="3.3,1.35"/>
<line x1="288.00" y1="246.80" x2="317.50" y2="246.80" stroke="#000" stroke-width="1.1"/><path d="M296,244.0 L288,246.8 L296,249.60000000000002 M309.5,244.0 L317.5,246.8 L309.5,249.60000000000002" fill="none" stroke="#000" stroke-width="1.1"/>
<line x1="302.60" y1="338.70" x2="339.40" y2="338.70" stroke="#8a8a8a" stroke-width="1.8"/><path d="M311.6,335.8 L302.6,338.7 L311.6,341.59999999999997 M330.4,335.8 L339.4,338.7 L330.4,341.59999999999997" fill="none" stroke="#000" stroke-width="1.1"/>
<text x="304.00" y="235.80" font-size="8.5" text-anchor="middle" fill="#000" stroke="#000" stroke-width="0.15">stable limit cycle</text>
<text x="320.30" y="352.30" font-size="8.5" text-anchor="middle" fill="#000" stroke="#000" stroke-width="0.15">bistable</text>
<path d="M214.60,343.30 C216.50,343.00 221.77,342.15 226.00,341.50 C230.23,340.85 235.33,340.17 240.00,339.40 C244.67,338.63 249.80,337.78 254.00,336.90 C258.20,336.02 261.93,335.08 265.20,334.10 C268.47,333.12 271.27,332.10 273.60,331.00 C275.93,329.90 277.55,328.78 279.20,327.50 C280.85,326.22 282.08,324.40 283.50,323.30 C284.92,322.20 287.00,321.30 287.70,320.90" fill="none" stroke="#000" stroke-width="2.9"/>
<path d="M287.7,320.8 L317.6,320.4" stroke="#f00" stroke-width="2.5"/>
<path d="M317.6,320.4 C326,320 333,319 339.6,316.4" fill="none" stroke="#000" stroke-width="2.5"/>
<path d="M339.50,316.20 C337.72,315.37 332.47,312.97 328.80,311.20 C325.13,309.43 320.88,307.57 317.50,305.60 C314.12,303.63 310.72,301.53 308.50,299.40 C306.28,297.27 305.18,294.95 304.20,292.80 C303.22,290.65 302.90,287.92 302.60,286.50 C302.30,285.08 302.43,284.67 302.40,284.30" fill="none" stroke="#f00" stroke-width="2.5"/>
<path d="M302.40,284.30 C302.73,282.97 303.33,278.55 304.40,276.30 C305.47,274.05 306.62,272.27 308.80,270.80 C310.98,269.33 313.50,268.28 317.50,267.50 C321.50,266.72 327.38,266.37 332.80,266.10 C338.22,265.83 345.13,265.98 350.00,265.90 C354.87,265.82 358.50,265.78 362.00,265.60 C365.50,265.42 367.88,265.30 371.00,264.80 C374.12,264.30 377.80,264.00 380.70,262.60 C383.60,261.20 386.35,258.70 388.40,256.40 C390.45,254.10 391.73,251.87 393.00,248.80 C394.27,245.73 395.23,241.47 396.00,238.00 C396.77,234.53 397.18,231.07 397.60,228.00 C398.02,224.93 398.35,221.00 398.50,219.60" fill="none" stroke="#000" stroke-width="2.6"/>
<circle cx="339.6" cy="316.2" r="2.7" fill="#000"/>
<circle cx="302.4" cy="284.3" r="2.7" fill="#000"/>
<circle cx="287.7" cy="321" r="2.6" fill="#2222ee"/>
<circle cx="317.6" cy="320.5" r="2.6" fill="#2222ee"/>
<line x1="214.60" y1="219.40" x2="420.50" y2="219.40" stroke="#111" stroke-width="1.3"/>
<line x1="214.60" y1="356.00" x2="420.50" y2="356.00" stroke="#111" stroke-width="1.3"/>
<line x1="214.60" y1="219.40" x2="214.60" y2="356.00" stroke="#111" stroke-width="1.3"/>
<line x1="420.50" y1="219.40" x2="420.50" y2="356.00" stroke="#111" stroke-width="1.3"/>
<text x="225.50" y="236.70" font-size="10.5" fill="#000" stroke="#000" stroke-width="0.15">(c)</text>
<text x="317.50" y="387.00" font-size="11" text-anchor="middle" fill="#000" stroke="#000" stroke-width="0.15">μ (nN/μm<tspan font-size="7.5" dy="-5.5">2</tspan><tspan dy="5.5">)</tspan></text>
<text transform="translate(173,288) rotate(-90)" x="0" y="0" font-size="10.8" text-anchor="middle" fill="#000" stroke="#000" stroke-width="0.1"><tspan font-style="italic">z</tspan> (μm)</text>
</svg></body></html>
